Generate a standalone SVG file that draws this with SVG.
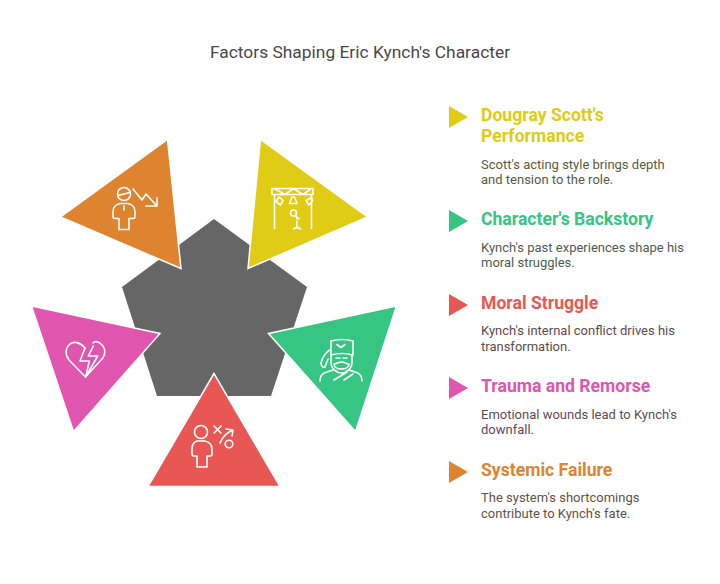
<svg xmlns="http://www.w3.org/2000/svg" width="720" height="584" viewBox="0 0 720 584">
<style>
text{font-family:Roboto,"Liberation Sans",sans-serif}
.t{font-size:17.4px;fill:#484848}
.h{font-size:17.6px;font-weight:700}
.d{font-size:13px}
.ic{fill:none;stroke:#fff;stroke-width:1.6;stroke-linecap:round;stroke-linejoin:round}
.tr{stroke:#fff;stroke-width:1.5;stroke-linejoin:miter}
</style>
<rect width="720" height="584" fill="#fff"/>
<text class="t" x="360" y="58" text-anchor="middle">Factors Shaping Eric Kynch's Character</text>
<g id="center"><polygon points="214,219 307,287 271,396 157,396 122,287" fill="#666"/></g>
<g id="systemic-failure">
<polygon class="tr" points="167.500,139.500 60.500,217 181,268.500" fill="#de8431"/>
<g class="ic"><circle cx="124" cy="194" r="6.500"/><path d="M118 195.500l12-3M124 206v4M120 203.500h8c4 1 7 4 7 8v5q0 2-2 2h-4v11h-10v-11h-4q-2 0-2-2v-5c0-4 3-7 7-8zM133 189l9 11 4-6 10 11M157 198v8h-11"/></g>
</g>
<g id="dougray-scott">
<polygon class="tr" points="260.500,139.500 367.500,217 248,268.500" fill="#e0cb15"/>
<g class="ic" stroke-width="1.8"><path d="M272 188.500h41v6h-41zM274.500 194.500v34M311.500 194.500v34M274 188.500l11 6 8.500-6 9.500 6 8.500-6M279 197l-3 4.500 4.500 3.500 2.500-4.500zM292 197h2.500l2.500 6.500h-7.500zM306 200.500l3 4.500 3.500-4-1-3.500zM296.500 218.500h2.500M297 221v7M293.500 229l3.500-2 3.500 2"/><circle cx="293.500" cy="213" r="3"/><path d="M295.500 215.500l2 3"/></g>
</g>
<g id="characters-backstory">
<polygon class="tr" points="396.500,306 268.500,333.500 355.500,431.500" fill="#37c583"/>
<g class="ic"><path d="M331 341q11-3 22 0v14q-11-3-22 0zM337 344.500l4 3 4-3M331 355v7c0 7 6 11 10.500 11s10.500-4 10.500-11v-7M331 349c-5 3-9 9-10 14 0 3 2 5 4 4l3-8M336 358h4M343 358h4M334 364c3 0 4-2 7.500-2s4.500 2 7.500 2c0 3-3 5-7.500 5s-7.500-2-7.500-5zM320 381c0-6 3-8 7-9l6-2M362 381c0-6-3-8-7-9l-6-2M334 380l13-8M344 380l9-6"/></g>
</g>
<g id="moral-struggle">
<polygon class="tr" points="214,373.500 148,486.500 280,486.500" fill="#e85754"/>
<g class="ic"><circle cx="201" cy="432" r="6.500"/><path d="M197 441h8c4 1 7 4 7 8v5q0 2-2 2h-3v11h-10v-11h-3q-2 0-2-2v-5c0-4 2-7 5-8zM214 426l7 7M221 426l-7 7M220 443c2-5 6-10 13-13M226 429l7 1-1 6"/><circle cx="229" cy="444" r="3.800"/></g>
</g>
<g id="trauma-remorse">
<polygon class="tr" points="31.500,306 160,333.500 73.500,431.500" fill="#e055ad"/>
<g class="ic"><path d="M85 348c-5-6-11-7-15-4-5 4-5 11-1 16l16.500 17 15.500-17c5-5 5-12 0-16-3-3-7-3-8-1"/><path d="M85 348l-5 13h9.300l-3.600 16M93.300 346l-5 10h9.400l-12 21"/></g>
</g>
<g id="legend">
<polygon points="449,106 468,117 449,128" fill="#e0cb15"/>
<text class="h" fill="#e0cb15"><tspan x="481" y="121">Dougray Scott's</tspan><tspan x="481" y="142">Performance</tspan></text>
<text class="d" fill="#5c5a40"><tspan x="481" y="169">Scott's acting style brings depth</tspan><tspan x="481" y="184">and tension to the role.</tspan></text>
<polygon points="449,210 468,221 449,232" fill="#37c583"/>
<text class="h" x="481" y="225" fill="#37c583">Character's Backstory</text>
<text class="d" fill="#4f5c55"><tspan x="481" y="252">Kynch's past experiences shape his</tspan><tspan x="481" y="267">moral struggles.</tspan></text>
<polygon points="449,294 468,305 449,316" fill="#e85754"/>
<text class="h" x="481" y="309" fill="#e85754">Moral Struggle</text>
<text class="d" fill="#5f4a4a"><tspan x="481" y="335">Kynch's internal conflict drives his</tspan><tspan x="481" y="351">transformation.</tspan></text>
<polygon points="449,377 468,388 449,399" fill="#e055ad"/>
<text class="h" x="481" y="392" fill="#e055ad">Trauma and Remorse</text>
<text class="d" fill="#5f4a58"><tspan x="481" y="419">Emotional wounds lead to Kynch's</tspan><tspan x="481" y="434">downfall.</tspan></text>
<polygon points="449,461 468,472 449,483" fill="#de8431"/>
<text class="h" x="481" y="476" fill="#de8431">Systemic Failure</text>
<text class="d" fill="#5f5246"><tspan x="481" y="502">The system's shortcomings</tspan><tspan x="481" y="518">contribute to Kynch's fate.</tspan></text>
</g>
</svg>
